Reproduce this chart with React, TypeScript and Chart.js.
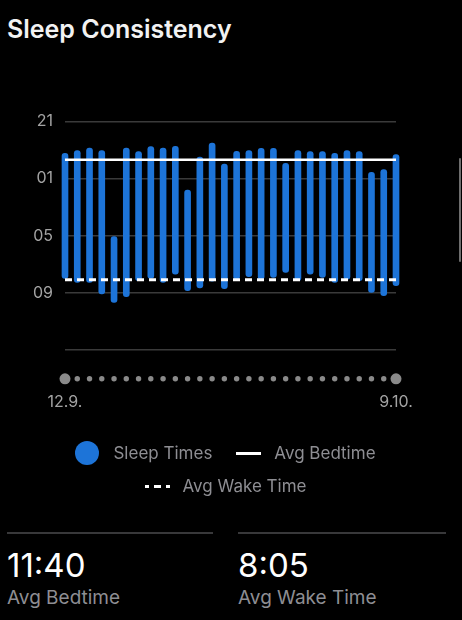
import React, { useEffect, useRef } from 'react';
import { Chart, registerables } from 'chart.js';

Chart.register(...registerables);

// ---- data ----
const dates = [
  '12.9.', '13.9.', '14.9.', '15.9.', '16.9.', '17.9.', '18.9.', '19.9.', '20.9.', '21.9.',
  '22.9.', '23.9.', '24.9.', '25.9.', '26.9.', '27.9.', '28.9.', '29.9.', '30.9.', '1.10.',
  '2.10.', '3.10.', '4.10.', '5.10.', '6.10.', '7.10.', '8.10.', '9.10.',
];
// hours relative to midnight (negative = evening before)
const bedtimes = [
  -0.78, -0.96, -1.15, -0.96, 5.07, -1.15, -0.89, -1.25, -1.15, -1.27,
  1.8, -0.52, -1.5, -0.03, -0.92, -0.96, -1.13, -1.13, -0.08, -0.96,
  -0.89, -0.89, -0.78, -0.96, -0.89, 0.56, 0.37, -0.68,
];
const wakeTimes = [
  8.0, 8.28, 8.28, 9.09, 9.68, 9.28, 8.16, 8.0, 8.28, 7.69,
  8.86, 8.66, 8.18, 8.72, 8.04, 7.88, 8.04, 7.93, 7.58, 8.16,
  7.69, 7.93, 8.28, 8.04, 8.16, 8.98, 9.21, 8.51,
];
const avgBedtime = -0.33; // 23:40
const avgWakeTime = 8.08; // 8:05
const yTickValues = [-3, 1, 5, 9, 13];
const yTickLabels = ['21', '01', '05', '09', ''];

const FONT = 'Inter, "Noto Sans", sans-serif';
const BLUE = '#1d74d8';

const axisDots = {
  id: 'axisDots',
  afterDatasetsDraw(chart: any) {
    const { ctx, chartArea, scales } = chart;
    const x = scales.x;
    const y = chartArea.bottom + 29;
    ctx.save();
    ctx.fillStyle = '#8a8a8a';
    dates.forEach((_, i) => {
      const big = i === 0 || i === dates.length - 1;
      ctx.beginPath();
      ctx.arc(x.getPixelForValue(i), y, big ? 5.5 : 2.7, 0, Math.PI * 2);
      ctx.fill();
    });
    ctx.restore();
  },
};

function SleepChart() {
  const ref = useRef<HTMLCanvasElement | null>(null);
  useEffect(() => {
    if (!ref.current) return;
    const chart = new Chart(ref.current, {
      type: 'bar',
      data: {
        labels: dates,
        datasets: [
          {
            type: 'bar',
            label: 'Sleep Times',
            data: bedtimes.map((b, i) => [b, wakeTimes[i]]) as any,
            backgroundColor: BLUE,
            barThickness: 6,
            borderRadius: 3,
            borderSkipped: false,
            clip: false as any,
            order: 3,
          } as any,
          {
            type: 'line',
            label: 'Avg Bedtime',
            data: dates.map(() => avgBedtime),
            borderColor: '#ffffff',
            borderWidth: 2.5,
            pointRadius: 0,
            order: 1,
          } as any,
          {
            type: 'line',
            label: 'Avg Wake Time',
            data: dates.map(() => avgWakeTime),
            borderColor: '#ffffff',
            borderWidth: 3,
            borderDash: [7, 5],
            pointRadius: 0,
            order: 1,
          } as any,
        ],
      },
      options: {
        animation: false,
        responsive: false,
        layout: { padding: { left: 0, right: 66, top: 21, bottom: 4 } },
        plugins: { legend: { display: false }, tooltip: { enabled: false } },
        scales: {
          x: {
            type: 'category',
            offset: false,
            grid: { display: false, drawTicks: false },
            border: { display: false },
            ticks: {
              autoSkip: false,
              maxRotation: 0,
              padding: 43,
              color: '#a3a3a3',
              font: { size: 16, family: FONT },
              callback: (_v: any, i: number) =>
                i === 0 || i === dates.length - 1 ? dates[i] : '',
            },
          },
          y: {
            reverse: true,
            min: -3,
            max: 13,
            afterBuildTicks: (s: any) => {
              s.ticks = yTickValues.map((v) => ({ value: v }));
            },
            afterFit: (s: any) => {
              s.width = 65;
            },
            grid: { color: '#3a3a3a', lineWidth: 1.5, drawTicks: false },
            border: { display: false },
            ticks: {
              padding: 12,
              color: '#a3a3a3',
              font: { size: 16, family: FONT },
              callback: (v: any) => {
                const k = yTickValues.indexOf(Number(v));
                return k >= 0 ? yTickLabels[k] : '';
              },
            },
          },
        },
      } as any,
      plugins: [axisDots],
    });
    return () => chart.destroy();
  }, []);
  return (
    <canvas
      ref={ref}
      width={462}
      height={359}
      style={{ position: 'absolute', left: 0, top: 100, width: 462, height: 359 }}
    />
  );
}

export default function App() {
  useEffect(() => {
    document.body.style.margin = '0';
    document.body.style.background = '#000';
  }, []);
  const gray = '#8e8e93';
  return (
    <div
      style={{
        position: 'fixed',
        left: 0,
        top: 0,
        width: 462,
        height: 620,
        background: '#000',
        overflow: 'hidden',
        fontFamily: FONT,
      }}
    >
      <div
        style={{
          position: 'absolute',
          left: 7,
          top: 17,
          fontSize: 25,
          lineHeight: '25px',
          fontWeight: 600,
          color: '#f2f2f2',
          whiteSpace: 'nowrap',
        }}
      >
        Sleep Consistency
      </div>

      <SleepChart />

      <div
        style={{
          position: 'absolute',
          left: 459,
          top: 158,
          width: 2,
          height: 104,
          background: '#6e6e6e',
          borderRadius: 1,
        }}
      />

      {/* legend */}
      <div
        style={{
          position: 'absolute',
          left: 0,
          top: 441,
          width: 451,
          height: 24,
          display: 'flex',
          justifyContent: 'center',
          alignItems: 'center',
          fontSize: 17,
          color: gray,
        }}
      >
        <span
          style={{
            width: 24,
            height: 24,
            borderRadius: 12,
            background: BLUE,
            display: 'inline-block',
          }}
        />
        <span style={{ marginLeft: 14 }}>Sleep Times</span>
        <span
          style={{
            marginLeft: 24,
            width: 25,
            height: 3,
            background: '#fff',
            display: 'inline-block',
          }}
        />
        <span style={{ marginLeft: 13 }}>Avg Bedtime</span>
      </div>
      <div
        style={{
          position: 'absolute',
          left: 0,
          top: 474,
          width: 451,
          height: 24,
          display: 'flex',
          justifyContent: 'center',
          alignItems: 'center',
          fontSize: 17,
          color: gray,
        }}
      >
        <span
          style={{
            width: 25,
            height: 3,
            display: 'inline-block',
            backgroundImage:
              'linear-gradient(to right, #fff 0 4px, transparent 4px 9px, #fff 9px 16px, transparent 16px 21px, #fff 21px 25px)',
          }}
        />
        <span style={{ marginLeft: 13 }}>Avg Wake Time</span>
      </div>

      {/* stats */}
      <div style={{ position: 'absolute', left: 7, top: 532, width: 206, height: 2, background: '#38383a' }} />
      <div style={{ position: 'absolute', left: 238, top: 532, width: 208, height: 2, background: '#38383a' }} />

      <div style={{ position: 'absolute', left: 7, top: 547, fontSize: 33, lineHeight: '36px', color: '#fff' }}>
        11:40
      </div>
      <div style={{ position: 'absolute', left: 7, top: 586, fontSize: 19, lineHeight: '24px', color: gray }}>
        Avg Bedtime
      </div>
      <div style={{ position: 'absolute', left: 238, top: 547, fontSize: 33, lineHeight: '36px', color: '#fff' }}>
        8:05
      </div>
      <div style={{ position: 'absolute', left: 238, top: 586, fontSize: 19, lineHeight: '24px', color: gray }}>
        Avg Wake Time
      </div>
    </div>
  );
}
